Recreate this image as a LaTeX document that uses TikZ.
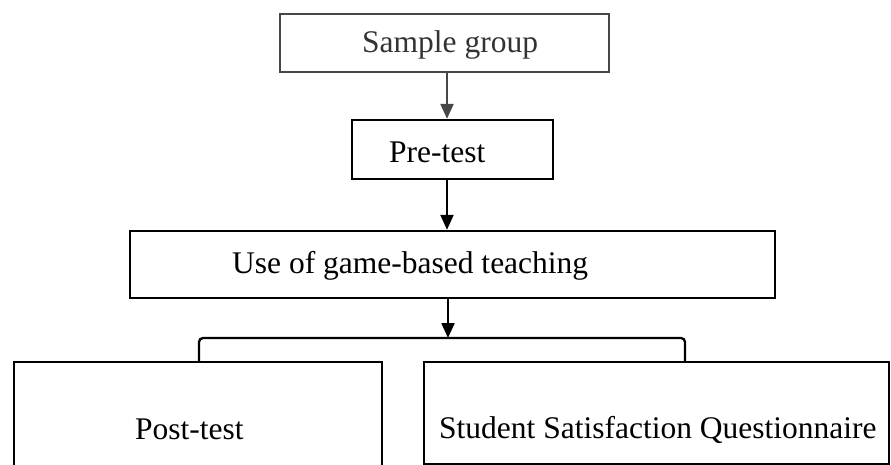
\documentclass[tikz,border=0pt]{standalone}
\usepackage{fontspec}
\setmainfont{Liberation Serif}
\usetikzlibrary{arrows.meta}
\begin{document}
\begin{tikzpicture}[x=1pt,y=-1pt,
  box/.style={draw=black, line width=2.4pt, inner sep=0pt},
  graybox/.style={box, draw=black!72},
  lbl/.style={anchor=base west, inner sep=0pt, font=\fontsize{31.5}{36}\selectfont},
  graylbl/.style={lbl, text=black!80},
  arr/.style={line width=2.3pt, -{Triangle[length=15pt,width=13pt]}},
  grayarr/.style={arr, draw=black!72}]
\useasboundingbox (0,0) rectangle (891,465);
\clip (0,0) rectangle (891,465);
% boxes
\node[graybox, minimum width=329pt, minimum height=58pt] (sample) at (444.5,43) {};
\node[box, minimum width=201pt, minimum height=59pt] (pre) at (452.5,149.5) {};
\node[box, minimum width=645pt, minimum height=67pt] (game) at (452.5,264.5) {};
\node[box, minimum width=368pt, minimum height=120pt] (post) at (198,422) {};
\node[box, minimum width=465pt, minimum height=102pt] (quest) at (656.5,413) {};
% labels
\node[graylbl] (sampleT) at (362,53) {Sample group};
\node[lbl] (preT) at (389,163) {Pre-test};
\node[lbl] (gameT) at (232,273) {Use of game-based teaching};
\node[lbl] (postT) at (135,439) {Post-test};
\node[lbl] (questT) at (439,438) {Student Satisfaction Questionnaire};
% connectors
\coordinate (ax) at (447,0);
\coordinate (bk) at (448,338);
\coordinate (bktL) at (199,338);
\coordinate (bktR) at (685,338);
\coordinate (bl) at (199,362);
\coordinate (br) at (685,362);
\draw[grayarr] (sample.south -| ax) -- (pre.north -| ax);
\draw[arr] (pre.south -| ax) -- (game.north -| ax);
\draw[arr] (game.south -| bk) -- (bk);
\draw[line width=2.3pt, rounded corners=4pt] (bl) -- (bktL) -- (bktR) -- (br);
\end{tikzpicture}
\end{document}
